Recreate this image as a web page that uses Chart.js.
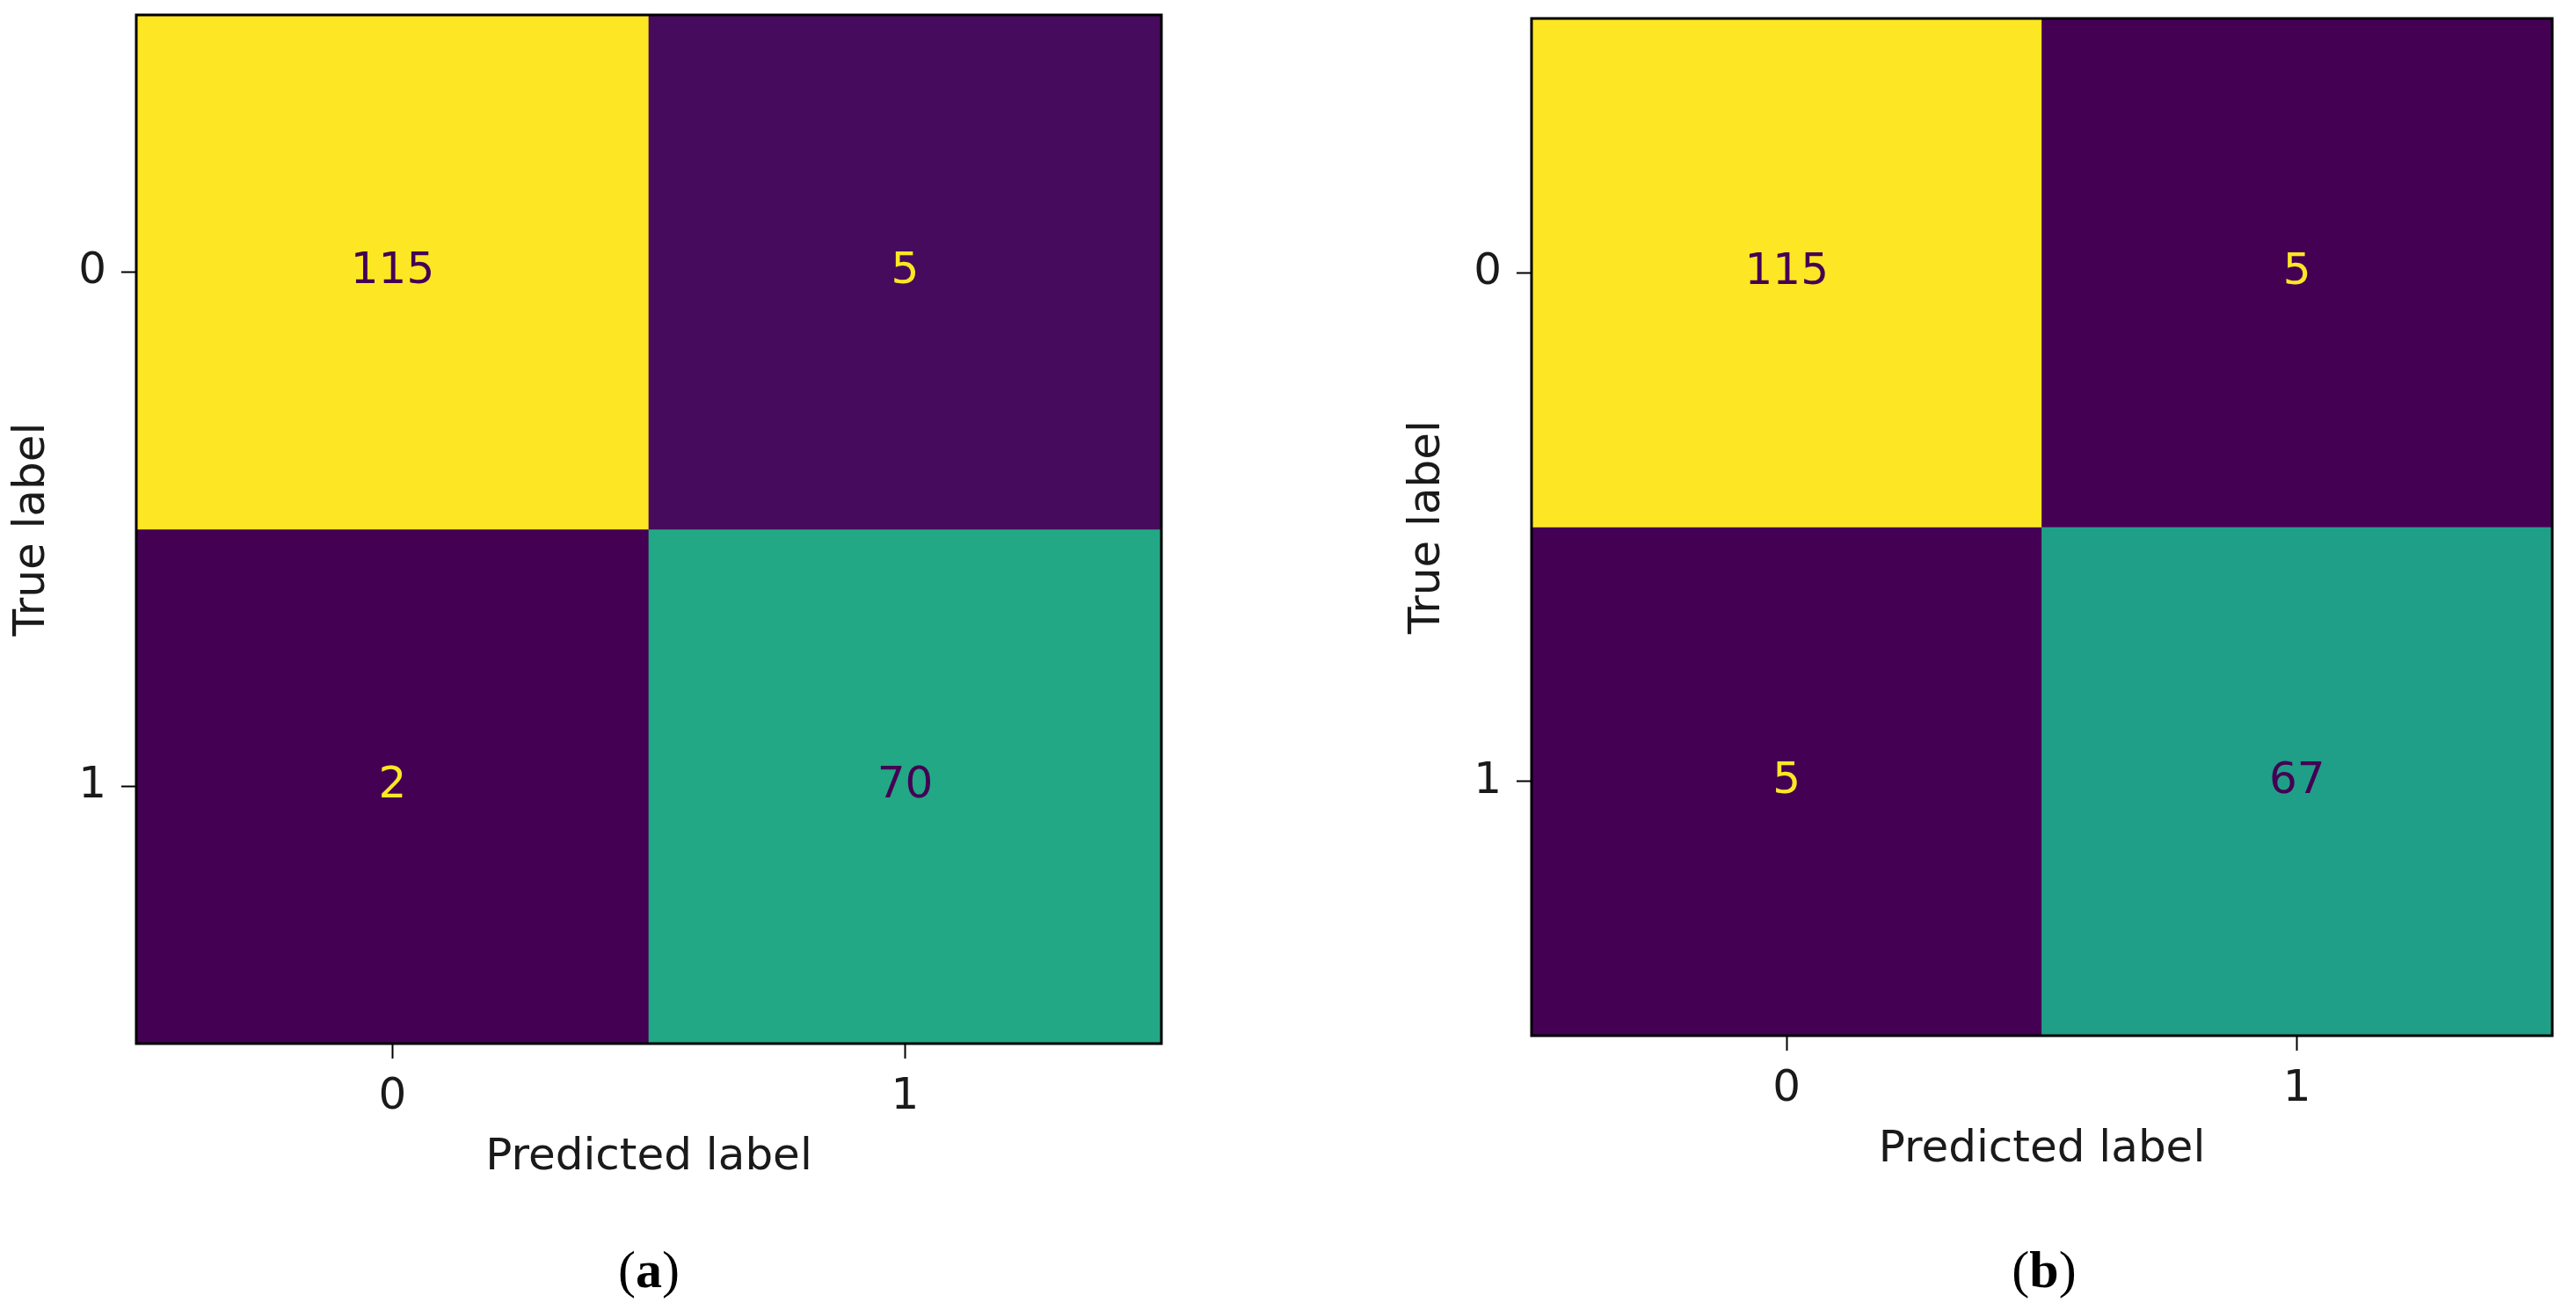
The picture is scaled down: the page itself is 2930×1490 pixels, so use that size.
<!DOCTYPE html>
<html>
<head>
<meta charset="utf-8">
<script src="https://cdn.jsdelivr.net/npm/chart.js@4/dist/chart.umd.min.js"></script>
<style>
  html, body { margin: 0; padding: 0; background: #fff; }
  body { width: 2930px; height: 1490px; position: relative; overflow: hidden; }
  .wrap { position: absolute; top: 0; height: 1380px; }
  .cap { position: absolute; font-family: "Liberation Serif", serif; font-size: 60px;
         color: #000; transform: translate(-50%, -50%); white-space: nowrap; }
</style>
</head>
<body>
<div class="wrap" id="wa" style="left:0;width:1380px"><canvas id="ca"></canvas></div>
<div class="wrap" id="wb" style="left:1400px;width:1530px"><canvas id="cb"></canvas></div>
<div class="cap" style="left:738px;top:1444px">(<b>a</b>)</div>
<div class="cap" style="left:2325px;top:1444px">(<b>b</b>)</div>
<script>
/* Two confusion matrices (sklearn ConfusionMatrixDisplay look-alike).
   Rows = true label, columns = predicted label. */
const CLASS_LABELS = ['0', '1'];
const X_TITLE = 'Predicted label';
const Y_TITLE = 'True label';

const CM_A_ROW0 = [115, 5];
const CM_A_ROW1 = [2, 70];
const CM_B_ROW0 = [115, 5];
const CM_B_ROW1 = [5, 67];

const FONT = '"DejaVu Sans", sans-serif';
const TEXT = '#1a1a1a';

/* viridis, sampled every 0.05 */
const VIRIDIS = ['#440154', '#471365', '#482475', '#463480', '#414487', '#3b528b',
  '#355f8d', '#2f6c8e', '#2a788e', '#25848e', '#21918c', '#1e9c89', '#22a884',
  '#2fb47c', '#44bf70', '#5ec962', '#7ad151', '#9bd93c', '#bddf26', '#dfe318', '#fde725'];

function hex(c) { return [1, 3, 5].map(i => parseInt(c.substr(i, 2), 16)); }
function viridis(t) {
  t = Math.max(0, Math.min(1, t));
  const p = t * (VIRIDIS.length - 1);
  const i = Math.min(Math.floor(p), VIRIDIS.length - 2);
  const f = p - i;
  const a = hex(VIRIDIS[i]), b = hex(VIRIDIS[i + 1]);
  return 'rgb(' + a.map((v, k) => Math.round(v + (b[k] - v) * f)).join(',') + ')';
}

/* cell numbers, with sklearn's min/max text colour rule */
const cellText = {
  id: 'cellText',
  afterDatasetsDraw(chart, args, opts) {
    const { ctx, scales: { x, y } } = chart;
    const rows = opts.rows;
    const flat = rows.flat();
    const lo = Math.min(...flat), hi = Math.max(...flat);
    const thresh = (lo + hi) / 2;
    ctx.save();
    ctx.font = '50px ' + FONT;
    ctx.textAlign = 'center';
    ctx.textBaseline = 'middle';
    rows.forEach((row, i) => row.forEach((v, j) => {
      ctx.fillStyle = v < thresh ? VIRIDIS[VIRIDIS.length - 1] : VIRIDIS[0];
      ctx.fillText(String(v), x.getPixelForValue(j), y.getPixelForValue(i));
    }));
    ctx.restore();
  }
};

/* black frame round the image, drawn on top of the cells */
const frame = {
  id: 'frame',
  afterDatasetsDraw(chart) {
    const { ctx, chartArea: a } = chart;
    ctx.save();
    ctx.strokeStyle = '#000';
    ctx.lineWidth = 3;
    ctx.strokeRect(a.left, a.top, a.right - a.left, a.bottom - a.top);
    ctx.restore();
  }
};

// no extra room for overhanging tick labels: the layout is set by hand
function noPad(s) { s.paddingTop = 0; s.paddingBottom = 0; s.paddingLeft = 0; s.paddingRight = 0; }

function makeMatrix(canvas, rows, lay) {
  const flat = rows.flat();
  const lo = Math.min(...flat), hi = Math.max(...flat);
  const datasets = rows.map((row, r) => ({
    data: CLASS_LABELS.map(() => [r - 0.5, r + 0.5]),
    backgroundColor: row.map(v => viridis((v - lo) / (hi - lo))),
    borderWidth: 0,
    grouped: false,
    barPercentage: 1,
    categoryPercentage: 1
  }));
  const tickGrid = { drawOnChartArea: false, drawTicks: true, tickLength: 17, tickWidth: 2, tickColor: '#000', offset: false };
  return new Chart(canvas, {
    type: 'bar',
    data: { labels: CLASS_LABELS, datasets },
    options: {
      responsive: true,
      maintainAspectRatio: false,
      animation: false,
      layout: { padding: lay.padding },
      plugins: { legend: { display: false }, tooltip: { enabled: false }, cellText: { rows } },
      scales: {
        x: {
          type: 'category',
          grid: tickGrid,
          border: { display: false },
          ticks: { color: TEXT, font: { family: FONT, size: 50 }, padding: 14, maxRotation: 0 },
          title: { display: true, text: X_TITLE, color: TEXT, font: { family: FONT, size: 50 }, padding: { top: 0, bottom: lay.xTitlePad } },
          afterFit: s => { s.height = lay.xHeight; noPad(s); }
        },
        y: {
          type: 'linear',
          min: -0.5,
          max: 1.5,
          reverse: true,
          grid: tickGrid,
          border: { display: false },
          afterBuildTicks: s => { s.ticks = CLASS_LABELS.map((_, i) => ({ value: i })); },
          ticks: { color: TEXT, font: { family: FONT, size: 50 }, padding: 17, callback: v => CLASS_LABELS[v] },
          title: { display: true, text: Y_TITLE, color: TEXT, font: { family: FONT, size: 50 }, padding: { top: 7, bottom: 0 } },
          afterFit: s => { s.width = 155; noPad(s); }
        }
      }
    },
    plugins: [cellText, frame]
  });
}

makeMatrix(document.getElementById('ca'), [CM_A_ROW0, CM_A_ROW1],
  { padding: { left: 0, top: 17, right: 59, bottom: 0 }, xHeight: 193, xTitlePad: 33 });
makeMatrix(document.getElementById('cb'), [CM_B_ROW0, CM_B_ROW1],
  { padding: { left: 187, top: 21, right: 27, bottom: 0 }, xHeight: 202, xTitlePad: 42 });
</script>
</body>
</html>
